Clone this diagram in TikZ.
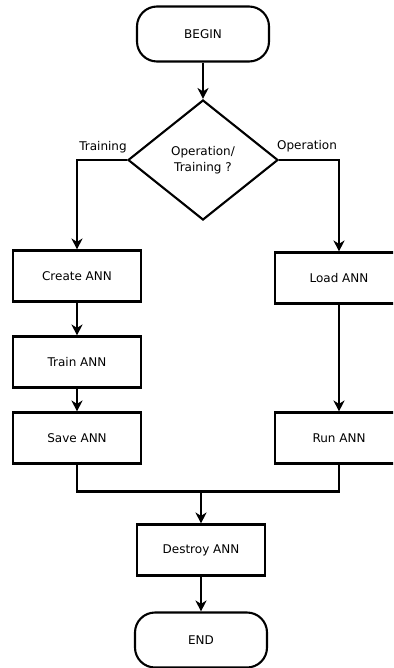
\documentclass[tikz,border=0pt]{standalone}
\usepackage{fontspec}
\setmainfont{DejaVu Sans}
\usetikzlibrary{arrows.meta, shapes.geometric, positioning, calc}

\begin{document}
\begin{tikzpicture}[x=1pt, y=-1pt,
    terminal/.style={rectangle, rounded corners=20pt, draw=black, line width=2.1pt, fill=white,
        minimum width=132pt, minimum height=55pt, font=\fontsize{12}{14}\selectfont},
    procbox/.style={rectangle, draw=black, line width=2.1pt, fill=white,
        minimum width=128pt, minimum height=51pt, font=\fontsize{12}{14}\selectfont},
    decision/.style={diamond, draw=black, line width=2.1pt, fill=white, inner sep=0pt,
        minimum width=150pt, minimum height=120pt, align=center, font=\fontsize{12}{16}\selectfont},
    arrow/.style={-{Stealth[length=11pt, width=11pt, inset=3.5pt]}, line width=2.1pt},
    line/.style={line width=2.1pt},
    branch/.style={font=\fontsize{12}{14}\selectfont}
]
    \clip (0,0) rectangle (393,668);
    \fill[white] (0,0) rectangle (393,668);

    \node[terminal] (begin)   at (203, 34) {BEGIN};
    \node[decision] (choice)  at (203,160) {Operation/\\Training ?};
    \node[procbox]  (create)  at (77, 276) {Create ANN};
    \node[procbox]  (train)   at (77, 362) {Train ANN};
    \node[procbox]  (save)    at (77, 438) {Save ANN};
    \node[procbox]  (load)    at (339,278) {Load ANN};
    \node[procbox]  (run)     at (339,438) {Run ANN};
    \node[procbox]  (destroy) at (201,550) {Destroy ANN};
    \node[terminal] (finish)  at (201,640) {END};

    \coordinate (join) at ($(destroy.north)+(0,-32)$);

    \draw[arrow] (begin)  -- (choice);
    \draw[arrow] (choice.west) -| (create.north);
    \draw[arrow] (choice.east) -| (load.north);
    \draw[arrow] (create) -- (train);
    \draw[arrow] (train)  -- (save);
    \draw[arrow] (load)   -- (run);
    \draw[line]  (save.south) |- (join) -| (run.south);
    \draw[arrow] (join)   -- (destroy);
    \draw[arrow] (destroy) -- (finish);

    % branch labels
    \node[branch] (lbltrain) at (103,147) {Training};
    \node[branch] (lblop)    at (307,146) {Operation};
\end{tikzpicture}
\end{document}
